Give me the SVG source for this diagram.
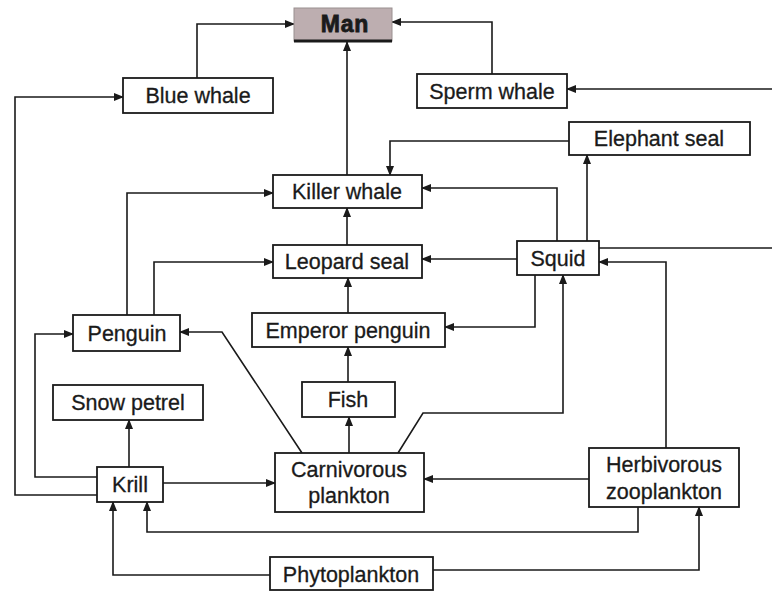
<svg xmlns="http://www.w3.org/2000/svg" width="772" height="592" viewBox="0 0 772 592">
<defs>
<marker id="ah" markerUnits="userSpaceOnUse" markerWidth="10" markerHeight="8" refX="9" refY="4" orient="auto">
<path d="M0,0 L10,4 L0,8 z" fill="#1a1a1a"/>
</marker>
<style>
.box{fill:#fff;stroke:#1a1a1a;stroke-width:1.8}
.t{font-family:"Liberation Sans",Arial,sans-serif;font-size:21.5px;fill:#1a1a1a;text-anchor:middle;stroke:#1a1a1a;stroke-width:0.3}
.c path{fill:none;stroke:#1a1a1a;stroke-width:1.6}
.a{marker-end:url(#ah)}
</style>
</defs>
<rect width="772" height="592" fill="#fff"/>
<g class="c" id="connectors">
<path class="a" d="M197,78 V24 H294"/>
<path class="a" d="M347,175 V42"/>
<path class="a" d="M492,74 V22 H392"/>
<path class="a" d="M772,89 H567"/>
<path class="a" d="M97,495 H15 V97 H123"/>
<path class="a" d="M569,141 H390 V175"/>
<path class="a" d="M587,241 V155"/>
<path class="a" d="M557,241 V188 H422"/>
<path class="a" d="M517,259 H422"/>
<path class="a" d="M535,275 V327 H445"/>
<path d="M599,248 H772"/>
<path class="a" d="M666,448 V262 H599"/>
<path class="a" d="M398,453 L423,413 H563 V275"/>
<path class="a" d="M347,245 V208"/>
<path class="a" d="M348,313 V278"/>
<path class="a" d="M348,382 V347"/>
<path class="a" d="M349,453 V417"/>
<path class="a" d="M127,315 V193 H273"/>
<path class="a" d="M154,315 V262 H273"/>
<path class="a" d="M97,477 H35 V334 H73"/>
<path class="a" d="M302,453 L222,332 H180"/>
<path class="a" d="M129,467 V420"/>
<path class="a" d="M163,483 H275"/>
<path class="a" d="M589,479 H424"/>
<path class="a" d="M638,507 V532 H147 V502"/>
<path class="a" d="M270,575 H113 V502"/>
<path class="a" d="M433,570 H699 V507"/>
</g>
<g id="man">
<rect x="294" y="8" width="98" height="33" fill="#bdaeb0" stroke="#9a9090" stroke-width="1"/>
<line x1="294" y1="41" x2="392" y2="41" stroke="#1a1a1a" stroke-width="3"/>
<text class="t" x="345" y="32" font-weight="bold" style="font-size:23px;letter-spacing:0.8px;stroke-width:0.8">Man</text>
</g>
<g id="blue-whale"><rect class="box" x="123" y="78" width="150" height="35"/><text class="t" x="198" y="103">Blue whale</text></g>
<g id="sperm-whale"><rect class="box" x="417" y="74" width="150" height="34"/><text class="t" x="492" y="99">Sperm whale</text></g>
<g id="elephant-seal"><rect class="box" x="569" y="122" width="181" height="33"/><text class="t" x="659" y="146">Elephant seal</text></g>
<g id="killer-whale"><rect class="box" x="273" y="175" width="149" height="33"/><text class="t" x="347" y="199">Killer whale</text></g>
<g id="leopard-seal"><rect class="box" x="273" y="245" width="149" height="33"/><text class="t" x="347" y="269">Leopard seal</text></g>
<g id="squid"><rect class="box" x="517" y="241" width="82" height="34"/><text class="t" x="558" y="266">Squid</text></g>
<g id="emperor-penguin"><rect class="box" x="252" y="313" width="193" height="34"/><text class="t" x="348" y="338">Emperor penguin</text></g>
<g id="penguin"><rect class="box" x="73" y="315" width="107" height="36"/><text class="t" x="127" y="341">Penguin</text></g>
<g id="snow-petrel"><rect class="box" x="53" y="385" width="150" height="35"/><text class="t" x="128" y="410">Snow petrel</text></g>
<g id="fish"><rect class="box" x="302" y="382" width="93" height="35"/><text class="t" x="348" y="407">Fish</text></g>
<g id="krill"><rect class="box" x="97" y="467" width="66" height="35"/><text class="t" x="130" y="492">Krill</text></g>
<g id="carnivorous-plankton"><rect class="box" x="275" y="453" width="149" height="59"/><text class="t" x="349" y="477">Carnivorous</text><text class="t" x="349" y="503">plankton</text></g>
<g id="herbivorous-zooplankton"><rect class="box" x="589" y="448" width="150" height="59"/><text class="t" x="664" y="472">Herbivorous</text><text class="t" x="664" y="499">zooplankton</text></g>
<g id="phytoplankton"><rect class="box" x="270" y="557" width="163" height="33"/><text class="t" x="351" y="582">Phytoplankton</text></g>
</svg>
